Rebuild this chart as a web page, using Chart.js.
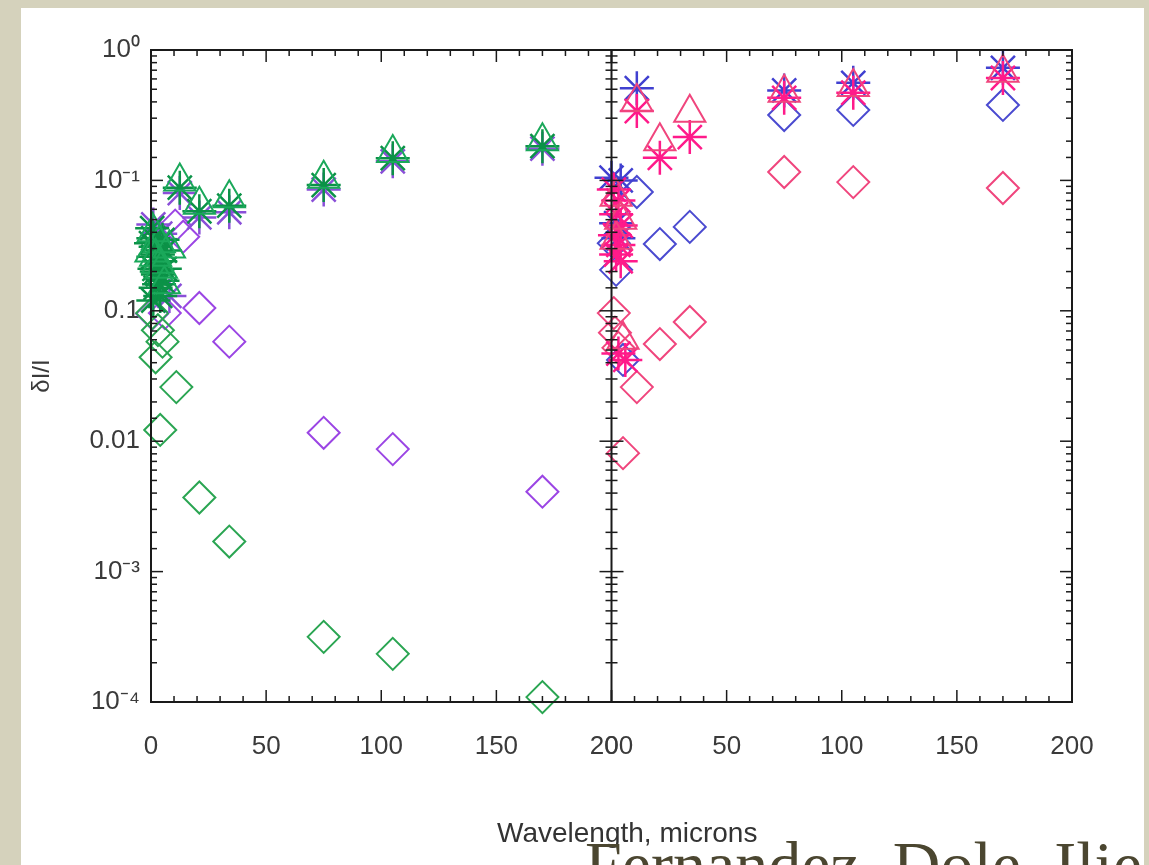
<!DOCTYPE html>
<html>
<head>
<meta charset="utf-8">
<script src="https://cdn.jsdelivr.net/npm/chart.js@4.4.0/dist/chart.umd.min.js"></script>
<style>
  html, body { margin: 0; padding: 0; }
  body { width: 1149px; height: 865px; background: #d5d2bc; position: relative; overflow: hidden; }
  .sheet { position: absolute; left: 21px; top: 8px; width: 1123px; height: 900px; background: #fff; }
  #wrap { position: absolute; left: 0; top: 0; width: 1149px; height: 865px; }
  .xtitle { position: absolute; left: 497px; top: 817px; font: 28px "Liberation Sans", Arial, sans-serif; line-height: 32px; color: #333; white-space: nowrap; }
  .credit { position: absolute; left: 585px; top: 827px; font: 66px "Liberation Serif", "Times New Roman", serif; color: #4b4630; white-space: nowrap; }
</style>
</head>
<body>
<div class="sheet"></div>
<div id="wrap"><canvas id="chart" width="1149" height="865"></canvas></div>
<div class="xtitle">Wavelength, microns</div>
<div class="credit">Fernandez, Dole, Ilie</div>
<script>
// tick labels as printed on the figure, bottom decade first
const yTickLabels = ['10⁻⁴', '10⁻³', '0.01', '0.1', '10⁻¹', '10⁰'];
const xTickLabels = [0, 50, 100, 150, 200];

// left panel, [wavelength, dI/I]
const greenStar = [[0.5, 0.043], [1, 0.036], [2, 0.031], [3, 0.027], [4, 0.024], [1.5, 0.021],
  [3, 0.019], [5, 0.017], [2, 0.015], [4, 0.013], [1, 0.012], [6, 0.029], [0, 0.033], [2.5, 0.02],
  [5, 0.035], [6, 0.021], [1, 0.026], [3.5, 0.016],
  [12.5, 0.088], [21, 0.058], [34, 0.064], [75, 0.092], [105, 0.148], [170, 0.183]];
const greenTri = [[1, 0.040], [2, 0.026], [3.6, 0.033], [4.5, 0.021], [5.8, 0.016], [8, 0.030],
  [0, 0.028], [3, 0.023], [12.5, 0.098], [21, 0.065], [34, 0.073], [75, 0.103], [105, 0.162], [170, 0.2]];
const purpleStar = [[1, 0.046], [4, 0.039], [8, 0.013], [12.5, 0.080], [21, 0.052], [34, 0.057],
  [75, 0.085], [105, 0.14], [170, 0.175]];
const purpleDiamond = [[0.5, 0.0095], [10.5, 0.045], [14, 0.037], [6, 0.0096], [21, 0.0105],
  [34, 0.0058], [75, 0.00116], [105, 0.00087], [170, 0.00041]];
const greenDiamond = [[0.5, 0.0096], [3, 0.0071], [5, 0.0058], [2, 0.0044], [11, 0.0026],
  [4, 0.00122], [21, 0.00037], [34, 0.00017], [75, 0.0000316], [105, 0.0000234], [170, 0.0000109]];

// right panel
const blueStar = [[0, 0.105], [4, 0.1], [2, 0.047], [3, 0.036], [11, 0.51], [75, 0.49], [105, 0.56], [170, 0.73]];
const pinkStar = [[1, 0.085], [3, 0.07], [2, 0.055], [4, 0.045], [1.5, 0.038], [3, 0.032], [2, 0.027],
  [4, 0.024], [3, 0.0047], [6, 0.0042], [11, 0.34], [21, 0.149], [34, 0.215], [75, 0.43], [105, 0.47], [170, 0.61]];
const pinkTri = [[2, 0.075], [4, 0.05], [2, 0.035], [5, 0.006], [11, 0.4], [21, 0.2], [34, 0.33],
  [75, 0.47], [105, 0.52], [170, 0.67]];
const blueDiamond = [[2, 0.0206], [1, 0.033], [5, 0.0042], [11, 0.0815], [21, 0.0325], [34, 0.044],
  [75, 0.317], [105, 0.347], [170, 0.379]];
const pinkDiamond = [[1, 0.0096], [1.5, 0.0068], [3, 0.0052], [5, 0.00081], [11, 0.0026], [21, 0.00556],
  [34, 0.0082], [75, 0.116], [105, 0.097], [170, 0.0874]];

const FONT = '"Liberation Sans", Arial, sans-serif';

function series(points, xAxis, style, color, radius, width) {
  return {
    data: points.map(p => ({ x: p[0], y: p[1] })),
    xAxisID: xAxis,
    yAxisID: 'y',
    pointStyle: style,
    pointRadius: radius,
    borderColor: color,
    backgroundColor: 'rgba(0,0,0,0)',
    pointBorderWidth: width,
    showLine: false,
    clip: false
  };
}

function isDecade(v) {
  const e = Math.log10(v);
  return Math.abs(e - Math.round(e)) < 1e-6;
}

// frame plus inward ticks, IDL style
const frameTicks = {
  id: 'frameTicks',
  afterDatasetsDraw(chart) {
    const { ctx, chartArea: a } = chart;
    const y = chart.scales.y, x1 = chart.scales.x1, x2 = chart.scales.x2;
    const mid = x2.left;
    const seg = (ax, ay, bx, by) => { ctx.beginPath(); ctx.moveTo(ax, ay); ctx.lineTo(bx, by); ctx.stroke(); };
    ctx.save();
    ctx.strokeStyle = '#1a1a1a';
    ctx.lineWidth = 2;
    ctx.strokeRect(a.left, a.top, a.right - a.left, a.bottom - a.top);
    seg(mid, a.top, mid, a.bottom);
    ctx.lineWidth = 1.5;
    y.ticks.forEach(t => {
      const p = y.getPixelForValue(t.value);
      const len = isDecade(t.value) ? 12 : 6;
      seg(a.left, p, a.left + len, p);
      seg(mid - len, p, mid + len, p);
      seg(a.right - len, p, a.right, p);
    });
    [x1, x2].forEach(s => s.ticks.forEach(t => {
      const p = s.getPixelForValue(t.value);
      const len = t.value % 50 === 0 ? 12 : 6;
      seg(p, a.bottom, p, a.bottom - len);
      seg(p, a.top, p, a.top + len);
    }));
    ctx.restore();
  }
};

function xScale() {
  return {
    type: 'linear',
    position: 'bottom',
    stack: 'wave',
    stackWeight: 1,
    min: 0,
    max: 200,
    grid: { display: false, drawTicks: false },
    border: { display: false },
    ticks: {
      stepSize: 10,
      autoSkip: false,
      maxRotation: 0,
      padding: 29,
      color: '#3a3a3a',
      font: { family: FONT, size: 26 },
      callback: v => xTickLabels.includes(v) ? String(v) : ''
    },
    afterFit: s => { s.height = 163; }
  };
}

new Chart(document.getElementById('chart'), {
  type: 'scatter',
  data: {
    datasets: [
      series(greenTri, 'x1', 'triangle', '#1aa85a', 18, 2),
      series(greenStar, 'x1', 'star', '#0b9247', 17, 2.5),
      series(purpleStar, 'x1', 'star', '#8a4fd8', 17, 2.5),
      series(greenDiamond, 'x1', 'rectRot', '#2aa552', 16, 2),
      series(purpleDiamond, 'x1', 'rectRot', '#9b45e4', 16, 2),
      series(pinkTri, 'x2', 'triangle', '#f0457d', 18, 2),
      series(pinkStar, 'x2', 'star', '#ff1a8a', 17, 2.5),
      series(blueStar, 'x2', 'star', '#4040d0', 17, 2.5),
      series(blueDiamond, 'x2', 'rectRot', '#4a4ad0', 16, 2),
      series(pinkDiamond, 'x2', 'rectRot', '#f0457d', 16, 2)
    ]
  },
  options: {
    responsive: false,
    animation: false,
    layout: { padding: { left: 0, top: 50, right: 77, bottom: 0 } },
    plugins: { legend: { display: false }, tooltip: { enabled: false } },
    scales: {
      x1: xScale(),
      x2: xScale(),
      y: {
        type: 'logarithmic',
        position: 'left',
        min: 1e-5,
        max: 1,
        grid: { display: false, drawTicks: false },
        border: { display: false },
        ticks: {
          autoSkip: false,
          padding: 11,
          color: '#3a3a3a',
          font: { family: FONT, size: 26 },
          callback: v => isDecade(v) ? yTickLabels[Math.round(Math.log10(v)) + 5] : ''
        },
        title: {
          display: true,
          text: 'δI/I',
          color: '#3a3a3a',
          font: { family: FONT, size: 24 },
          padding: { top: 28, bottom: 0 }
        },
        afterFit: s => { s.width = 151; }
      }
    }
  },
  plugins: [frameTicks]
});
</script>
</body>
</html>
